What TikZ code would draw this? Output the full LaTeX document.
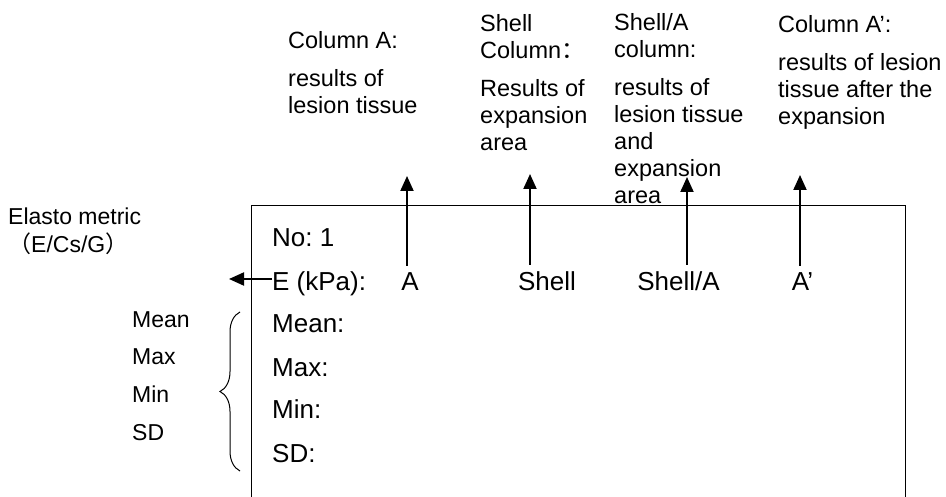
\documentclass[tikz,border=0pt]{standalone}
\usepackage{fontspec}
\setmainfont{Liberation Sans}
\newfontfamily\cjk{Noto Sans CJK SC}
\usepackage{tikz}
\usetikzlibrary{arrows.meta,positioning,decorations.pathreplacing}
\frenchspacing
\tikzset{
  colarrow/.style={-{Triangle[length=15pt,width=13pt]}, line width=2pt},
  frameline/.style={line width=1pt},
  boxtxt/.style={anchor=base west, inner sep=0pt, font=\fontsize{26}{30}\selectfont},
  valtxt/.style={anchor=base, inner xsep=0pt, inner ysep=7pt, font=\fontsize{26}{30}\selectfont},
  toplbl/.style={anchor=north west, inner sep=0pt, align=left, font=\fontsize{23.5}{27}\selectfont},
  sidelbl/.style={anchor=base west, inner sep=0pt, font=\fontsize{23}{28}\selectfont},
}

\begin{document}
\begin{tikzpicture}[x=1pt,y=-1pt]
\useasboundingbox (0,0) rectangle (946,497);
\coordinate (frameBL) at (251,497);
\coordinate (frameTR) at (905,206);
\coordinate (frameBR) at (905,497);
\draw[frameline] (frameBL) |- (frameTR) -- (frameBR);

\node[toplbl] (colA) at (288,31) {Column A:\\[11pt]results of\\lesion tissue};
\node[toplbl] (colShell) at (480,14) {Shell\\Column{\cjk ：}\\[11pt]Results of\\expansion\\area};
\node[toplbl] (colShellA) at (614,13) {Shell/A\\column:\\[11pt]results of\\lesion tissue\\and\\expansion\\area};
\node[toplbl] (colAp) at (778,15) {Column A’:\\[11pt]results of lesion\\tissue after the\\expansion};

\node[boxtxt] (noLbl) at (272,247) {No: 1};
\node[boxtxt] (eLbl) at (272,291) {E (kPa):};
\node[boxtxt] (meanLbl) at (272,333) {Mean:};
\node[boxtxt] (maxLbl) at (272,376) {Max:};
\node[boxtxt] (minLbl) at (272,418) {Min:};
\node[boxtxt] (sdLbl) at (272,462) {SD:};

\node[valtxt] (valA) at (410,291) {A};
\node[valtxt] (valShell) at (547,291) {Shell};
\node[valtxt] (valShellA) at (678.5,291) {Shell/A};
\node[valtxt] (valAp) at (802.5,291) {A’};

\coordinate (tipA) at (407,176);
\coordinate (tipShell) at (530,174);
\coordinate (tipShellA) at (687,177);
\coordinate (tipAp) at (800,175);
\draw[colarrow] (tipA |- valA.north) -- (tipA);
\draw[colarrow] (tipShell |- valShell.north) -- (tipShell);
\draw[colarrow] (tipShellA |- valShellA.north) -- (tipShellA);
\draw[colarrow] (tipAp |- valAp.north) -- (tipAp);

\node[sidelbl, anchor=north west, align=left] (elastoLbl) at (8,208) {Elasto metric\\{\cjk （}E/Cs/G{\cjk ）}};
\coordinate (elTip) at (229,279);
\draw[colarrow] (eLbl.west |- elTip) -- (elTip);

\node[sidelbl] (meanSide) at (132,327) {Mean};
\node[sidelbl] (maxSide) at (132,364) {Max};
\node[sidelbl] (minSide) at (132,402) {Min};
\node[sidelbl] (sdSide) at (132,440) {SD};

\coordinate (braceBot) at (240,471);
\coordinate (braceTop) at (240,312);
\draw[frameline, decorate, decoration={brace, amplitude=20pt}] (braceBot) -- (braceTop);
\end{tikzpicture}
\end{document}
